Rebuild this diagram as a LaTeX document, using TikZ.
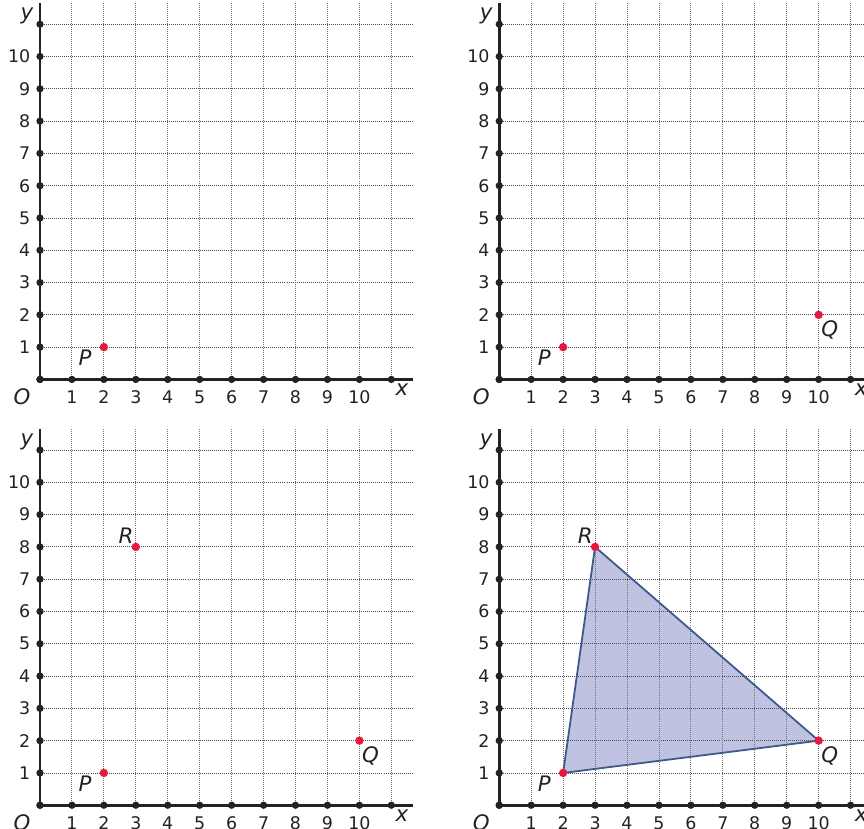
\documentclass[tikz,border=0pt]{standalone}
\usepackage{fontspec}
\setmainfont{DejaVu Sans}
\usepackage{tikz}
\usetikzlibrary{positioning,backgrounds}
\definecolor{ptRed}{HTML}{E6193C}
\definecolor{triFill}{HTML}{BFC3E1}
\definecolor{triEdge}{HTML}{3D5A8C}
\definecolor{axisInk}{HTML}{222222}

\begin{document}
\begin{tikzpicture}[
  x=1cm,y=1.011cm,
  vgrid/.style={densely dotted,line width=0.8pt,draw=black!55},
  hgrid/.style={densely dotted,line width=0.8pt,draw=black!70},
  axisline/.style={line width=2.4pt,draw=axisInk},
  tickdot/.style={circle,fill=axisInk,inner sep=0pt,minimum size=6.5pt},
  ptdot/.style={circle,fill=ptRed,inner sep=0pt,minimum size=7.5pt},
  numlbl/.style={inner sep=0pt,text=axisInk,font=\fontsize{15.5}{16}\selectfont},
  letlbl/.style={inner sep=0pt,text=axisInk,font=\fontsize{19}{20}\selectfont\itshape}
]
\path[use as bounding box,clip] (0,0) rectangle (27.05,25.67);
% four copies of the grid
\foreach \pn/\ox/\oy in {a/1.252/13.92, b/15.63/13.92, c/1.252/0.734, d/15.63/0.734}{
  \begin{scope}[shift={(\ox,\oy)}]
    \coordinate (org-\pn) at (0,0);
    \foreach \i in {1,...,11}{
      \draw[vgrid] (\i,0) -- (\i,11.65);
      \draw[hgrid] (0,\i) -- (11.68,\i);
    }
    \draw[axisline] (0,0) -- (11.68,0);
    \draw[axisline] (0,0) -- (0,11.65);
    \foreach \i in {0,...,11}{
      \node[tickdot] (xt-\pn-\i) at (\i,0) {};
      \node[tickdot] (yt-\pn-\i) at (0,\i) {};
    }
    \foreach \i in {1,...,10}{
      \node[numlbl,anchor=north] (xl-\pn-\i) at (\i,-0.34) {\i};
      \node[numlbl,anchor=east] (yl-\pn-\i) at (-0.3,\i) {\i};
    }
    \node[letlbl] (o-\pn) at (-0.56,-0.55) {O};
    \node[letlbl] (xa-\pn) at (11.33,-0.33) {x};
    \node[letlbl] (ya-\pn) at (-0.41,11.25) {y};
  \end{scope}
}
% points
\node[ptdot] (P-a) at ([shift={(2,1)}]org-a) {};
\node[ptdot] (P-b) at ([shift={(2,1)}]org-b) {};
\node[ptdot] (Q-b) at ([shift={(10,2)}]org-b) {};
\node[ptdot] (P-c) at ([shift={(2,1)}]org-c) {};
\node[ptdot] (Q-c) at ([shift={(10,2)}]org-c) {};
\node[ptdot] (R-c) at ([shift={(3,8)}]org-c) {};
\coordinate (P-d) at ([shift={(2,1)}]org-d);
\coordinate (Q-d) at ([shift={(10,2)}]org-d);
\coordinate (R-d) at ([shift={(3,8)}]org-d);
% triangle PQR
\begin{scope}[on background layer]
  \fill[triFill] (P-d) -- (Q-d) -- (R-d) -- cycle;
\end{scope}
\draw[triEdge,line width=1.6pt,line join=round] (P-d) -- (Q-d) -- (R-d) -- cycle;
\foreach \pt in {P-d,Q-d,R-d}{
  \node[ptdot] (\pt-dot) at (\pt) {};
}
% labels
\foreach \pn in {a,b,c,d}{
  \node[letlbl] (Pl-\pn) at ([shift={(-0.59,-0.34)}]P-\pn) {P};
}
\foreach \pn in {b,c,d}{
  \node[letlbl] (Ql-\pn) at ([shift={(0.35,-0.47)}]Q-\pn) {Q};
}
\foreach \pn in {c,d}{
  \node[letlbl] (Rl-\pn) at ([shift={(-0.31,0.34)}]R-\pn) {R};
}
\end{tikzpicture}
\end{document}
